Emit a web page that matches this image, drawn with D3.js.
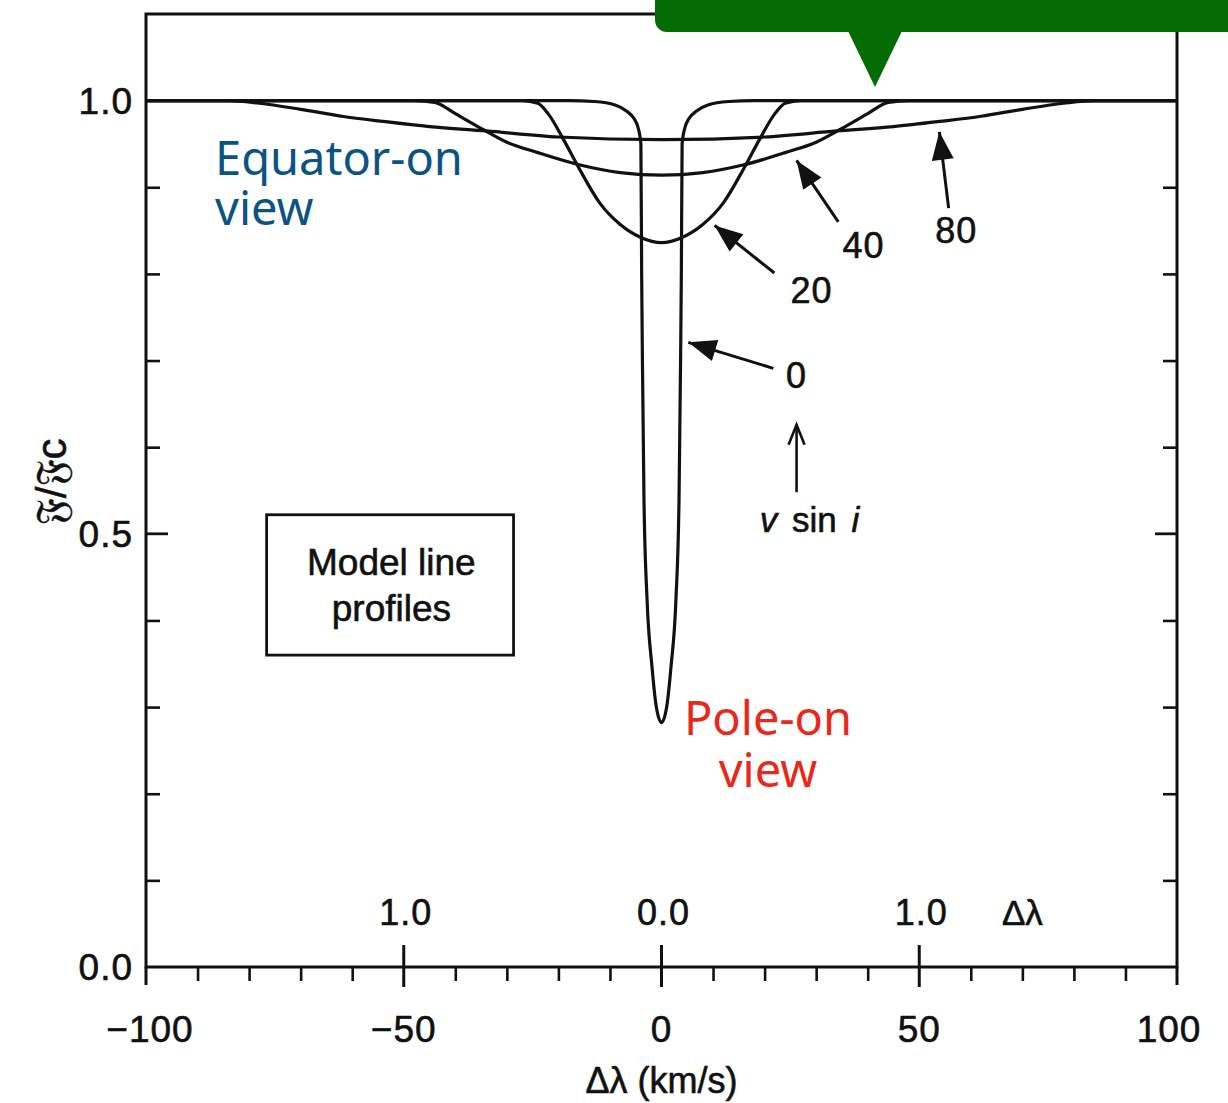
<!DOCTYPE html>
<html>
<head>
<meta charset="utf-8">
<script src="https://cdn.jsdelivr.net/npm/d3@7"></script>
<style>
  body { margin: 0; background: #fff; }
  svg { display: block; }
  .lbl { font-family: "Liberation Sans", Arial, sans-serif; fill: #111; stroke: #111; stroke-width: 0.6px; }
</style>
</head>
<body>
<svg id="chart" width="1228" height="1103"></svg>
<script>
// model line profiles (both wings listed)
const prof0v = [-100, -18, -13, -9, -6.8, -5.3, -4.6, -4.0, -3.85, -3.7, -3.4, -2.8, -1.85, -1, 0, 1, 1.85, 2.8, 3.4, 3.7, 3.85, 4.0, 4.6, 5.3, 6.8, 9, 13, 18, 100]
const prof0f = [1, 1, 0.999, 0.995, 0.988, 0.979, 0.970, 0.950, 0.80, 0.70, 0.54, 0.424, 0.347, 0.30, 0.282, 0.30, 0.347, 0.424, 0.54, 0.70, 0.80, 0.950, 0.970, 0.979, 0.988, 0.995, 0.999, 1, 1]

const prof20v = [-100, -27, -24, -22, -19, -16, -12, -8, -4, 0, 4, 8, 12, 16, 19, 22, 24, 27, 100]
const prof20f = [1, 1, 0.997, 0.985, 0.955, 0.922, 0.882, 0.857, 0.842, 0.836, 0.842, 0.857, 0.882, 0.922, 0.955, 0.985, 0.997, 1, 1]

const prof40v = [-100, -48, -44, -40, -35, -30, -24, -16, -8, 0, 8, 16, 24, 30, 35, 40, 44, 48, 100]
const prof40f = [1, 1, 0.998, 0.985, 0.968, 0.952, 0.940, 0.926, 0.917, 0.914, 0.917, 0.926, 0.940, 0.952, 0.968, 0.985, 0.998, 1, 1]

const prof80v = [-100, -84, -78, -70, -62, -54, -45, -34, -20, 0, 20, 34, 45, 54, 62, 70, 78, 84, 100]
const prof80f = [1, 1, 0.997, 0.99, 0.982, 0.976, 0.970, 0.965, 0.958, 0.955, 0.958, 0.965, 0.970, 0.976, 0.982, 0.99, 0.997, 1, 1]

const xTickMajor = [-50, 0, 50]
const xTickMinor = [-90, -80, -70, -60, -40, -30, -20, -10, 10, 20, 30, 40, 60, 70, 80, 90]
const xTickLabels = ["\u2212100", "\u221250", "0", "50", "100"]
const xTickLabelValues = [-100, -50, 0, 50, 100]
const yTickMinor = [0.1, 0.2, 0.3, 0.4, 0.6, 0.7, 0.8, 0.9]
const yTickLabels = ["0.0", "0.5", "1.0"]
const yTickLabelValues = [0, 0.5, 1.0]
const wlLabels = ["1.0", "0.0", "1.0"]

// arrows: tip [v, f], tail [v, f], label [v, f]
const arrowNames = ["0", "20", "40", "80"]
const arrowTips = [[5.2, 0.721], [10.3, 0.856], [26.2, 0.931], [53.9, 0.964]]
const arrowTails = [[21.7, 0.691], [21.9, 0.801], [34.3, 0.860], [55.7, 0.876]]
const arrowLabelPos = [[26.2, 0.683], [29.1, 0.781], [39.2, 0.833], [57.2, 0.851]]

const svg = d3.select('#chart')

const x = d3.scaleLinear().domain([-100, 100]).range([146, 1177])
const y = d3.scaleLinear().domain([0, 1.1]).range([967, 14])

const line = d3.line()
  .x(d => x(d[0]))
  .y(d => y(d[1]))
  .curve(d3.curveMonotoneX)

// frame
svg.append('rect')
  .attr('x', x(-100)).attr('y', y(1.1))
  .attr('width', x(100) - x(-100)).attr('height', y(0) - y(1.1))
  .attr('fill', 'none').attr('stroke', '#111').attr('stroke-width', 3)

// x minor ticks (down)
svg.append('g')
  .attr('transform', `translate(0,${y(0)})`)
  .call(d3.axisBottom(x).tickValues(xTickMinor).tickSize(14).tickFormat(''))
  .call(g => g.select('.domain').remove())
  .selectAll('line').attr('stroke', '#111').attr('stroke-width', 2.6)

// x major ticks (both sides)
svg.append('g')
  .selectAll('line')
  .data(xTickMajor)
  .enter()
  .append('line')
  .attr('x1', d => x(d)).attr('x2', d => x(d))
  .attr('y1', y(0) - 22).attr('y2', y(0) + 20)
  .attr('stroke', '#111').attr('stroke-width', 3)

// frame extensions at +-100
svg.append('g')
  .selectAll('line')
  .data([-100, 100])
  .enter()
  .append('line')
  .attr('x1', d => x(d)).attr('x2', d => x(d))
  .attr('y1', y(0)).attr('y2', y(0) + 18)
  .attr('stroke', '#111').attr('stroke-width', 3)

// y ticks, left and right, pointing inward
function yTicks(axis, x0) {
  svg.append('g')
    .attr('transform', `translate(${x0},0)`)
    .call(axis.tickValues(yTickMinor).tickSize(14).tickFormat(''))
    .call(g => g.select('.domain').remove())
    .selectAll('line').attr('stroke', '#111').attr('stroke-width', 2.6)
}
yTicks(d3.axisRight(y), x(-100))
yTicks(d3.axisLeft(y), x(100))
svg.append('g')
  .selectAll('line')
  .data([[x(-100), 22], [x(100), -22]])
  .enter()
  .append('line')
  .attr('x1', d => d[0]).attr('x2', d => d[0] + d[1])
  .attr('y1', y(0.5)).attr('y2', y(0.5))
  .attr('stroke', '#111').attr('stroke-width', 2.8)

// tick labels
svg.append('g')
  .selectAll('text')
  .data(xTickLabelValues)
  .enter()
  .append('text')
  .attr('class', 'lbl')
  .attr('x', (d, i) => x(d) + (d === 100 ? -8 : d === -100 ? 4 : 0))
  .attr('y', 1042)
  .attr('text-anchor', 'middle')
  .attr('font-size', 37)
  .attr('letter-spacing', 1)
  .text((d, i) => xTickLabels[i])

svg.append('g')
  .selectAll('text')
  .data(yTickLabelValues)
  .enter()
  .append('text')
  .attr('class', 'lbl')
  .attr('x', 133)
  .attr('y', d => y(d) + 13)
  .attr('text-anchor', 'end')
  .attr('font-size', 37)
  .attr('letter-spacing', 1)
  .text((d, i) => yTickLabels[i])

// wavelength scale labels inside the plot
svg.append('g')
  .selectAll('text')
  .data(xTickMajor)
  .enter()
  .append('text')
  .attr('class', 'lbl')
  .attr('x', d => x(d) + 2)
  .attr('y', 925)
  .attr('text-anchor', 'middle')
  .attr('font-size', 36)
  .attr('letter-spacing', 1)
  .text((d, i) => wlLabels[i])

svg.append('text')
  .attr('class', 'lbl')
  .attr('x', x(70))
  .attr('y', 925)
  .attr('text-anchor', 'middle')
  .attr('font-size', 35)
  .text('\u0394\u03bb')

// axis titles
svg.append('text')
  .attr('class', 'lbl')
  .attr('x', x(0))
  .attr('y', 1093)
  .attr('text-anchor', 'middle')
  .attr('font-size', 36)
  .text('\u0394\u03bb (km/s)')

svg.append('text')
  .attr('class', 'lbl')
  .attr('transform', `translate(66,${y(0.56)}) rotate(-90)`)
  .attr('text-anchor', 'middle')
  .attr('font-size', 42)
  .text('\ud835\udd09/\ud835\udd09c')

// profiles
const profiles = [
  [prof0v, prof0f],
  [prof20v, prof20f],
  [prof40v, prof40f],
  [prof80v, prof80f]
]
svg.append('g')
  .selectAll('path')
  .data(profiles)
  .enter()
  .append('path')
  .attr('fill', 'none')
  .attr('stroke', '#111')
  .attr('stroke-width', 3.2)
  .attr('stroke-linejoin', 'round')
  .attr('d', p => line(p[0].map((v, i) => [v, p[1][i]])))

// labelled arrows with filled heads
function arrowHead(tip, tail, len, half) {
  const tx = x(tip[0]), ty = y(tip[1])
  const dx = x(tail[0]) - tx, dy = y(tail[1]) - ty
  const L = Math.sqrt(dx * dx + dy * dy)
  const ux = dx / L, uy = dy / L
  const bx = tx + ux * len, by = ty + uy * len
  return `M${tx},${ty}L${bx - uy * half},${by + ux * half}L${bx + uy * half},${by - ux * half}Z`
}

const arrows = svg.append('g')
arrowNames.forEach((name, i) => {
  arrows.append('line')
    .attr('x1', x(arrowTips[i][0])).attr('y1', y(arrowTips[i][1]))
    .attr('x2', x(arrowTails[i][0])).attr('y2', y(arrowTails[i][1]))
    .attr('stroke', '#111').attr('stroke-width', 3)
  arrows.append('path')
    .attr('d', arrowHead(arrowTips[i], arrowTails[i], 28, 11))
    .attr('fill', '#111')
  arrows.append('text')
    .attr('class', 'lbl')
    .attr('x', x(arrowLabelPos[i][0]))
    .attr('y', y(arrowLabelPos[i][1]) + 13)
    .attr('text-anchor', 'middle')
    .attr('font-size', 36)
    .attr('letter-spacing', 1)
    .text(name)
})

// v sin i arrow (open head)
const vTip = [26.2, 0.626], vTail = [26.2, 0.548]
arrows.append('line')
  .attr('x1', x(vTip[0])).attr('y1', y(vTip[1]))
  .attr('x2', x(vTail[0])).attr('y2', y(vTail[1]))
  .attr('stroke', '#111').attr('stroke-width', 2.6)
arrows.append('path')
  .attr('d', `M${x(vTip[0]) - 8},${y(vTip[1]) + 20}L${x(vTip[0])},${y(vTip[1])}L${x(vTip[0]) + 8},${y(vTip[1]) + 20}`)
  .attr('fill', 'none').attr('stroke', '#111').attr('stroke-width', 2.6)

const vsini = arrows.append('text')
  .attr('class', 'lbl')
  .attr('x', x(28.7))
  .attr('y', y(0.516) + 12)
  .attr('text-anchor', 'middle')
  .attr('font-size', 35)
  .attr('word-spacing', 5)
vsini.append('tspan').attr('font-style', 'italic').text('v')
vsini.append('tspan').text(' sin ')
vsini.append('tspan').attr('font-style', 'italic').text('i')

// boxed note
const boxX = [-76.6, -28.7], boxY = [0.522, 0.36]
svg.append('rect')
  .attr('x', x(boxX[0])).attr('y', y(boxY[0]))
  .attr('width', x(boxX[1]) - x(boxX[0])).attr('height', y(boxY[1]) - y(boxY[0]))
  .attr('fill', 'none').attr('stroke', '#111').attr('stroke-width', 2.8)
svg.append('g')
  .selectAll('text')
  .data(['Model line', 'profiles'])
  .enter()
  .append('text')
  .attr('class', 'lbl')
  .attr('x', x(-52.4))
  .attr('y', (d, i) => y(0.466) + 12 + i * 46)
  .attr('text-anchor', 'middle')
  .attr('font-size', 37)
  .text(d => d)

// overlay notes
svg.append('g')
  .selectAll('text')
  .data(['Equator-on', 'view'])
  .enter()
  .append('text')
  .attr('x', 215)
  .attr('y', (d, i) => 175 + i * 50)
  .attr('font-family', '"Noto Sans", "Open Sans", sans-serif')
  .attr('font-size', 47)
  .attr('fill', '#0b5285')
  .text(d => d)

svg.append('g')
  .selectAll('text')
  .data(['Pole-on', 'view'])
  .enter()
  .append('text')
  .attr('x', 768)
  .attr('y', (d, i) => 735 + i * 52)
  .attr('text-anchor', 'middle')
  .attr('font-family', '"Noto Sans", "Open Sans", sans-serif')
  .attr('font-size', 47)
  .attr('fill', '#e8281a')
  .text(d => d)

// green callout at the top
const callout = svg.append('g').attr('fill', '#046c05')
callout.append('rect')
  .attr('x', 655).attr('y', -20)
  .attr('width', 600).attr('height', 52)
  .attr('rx', 12)
callout.append('path')
  .attr('d', 'M848,31L902,31L875,87Z')
</script>
</body>
</html>
